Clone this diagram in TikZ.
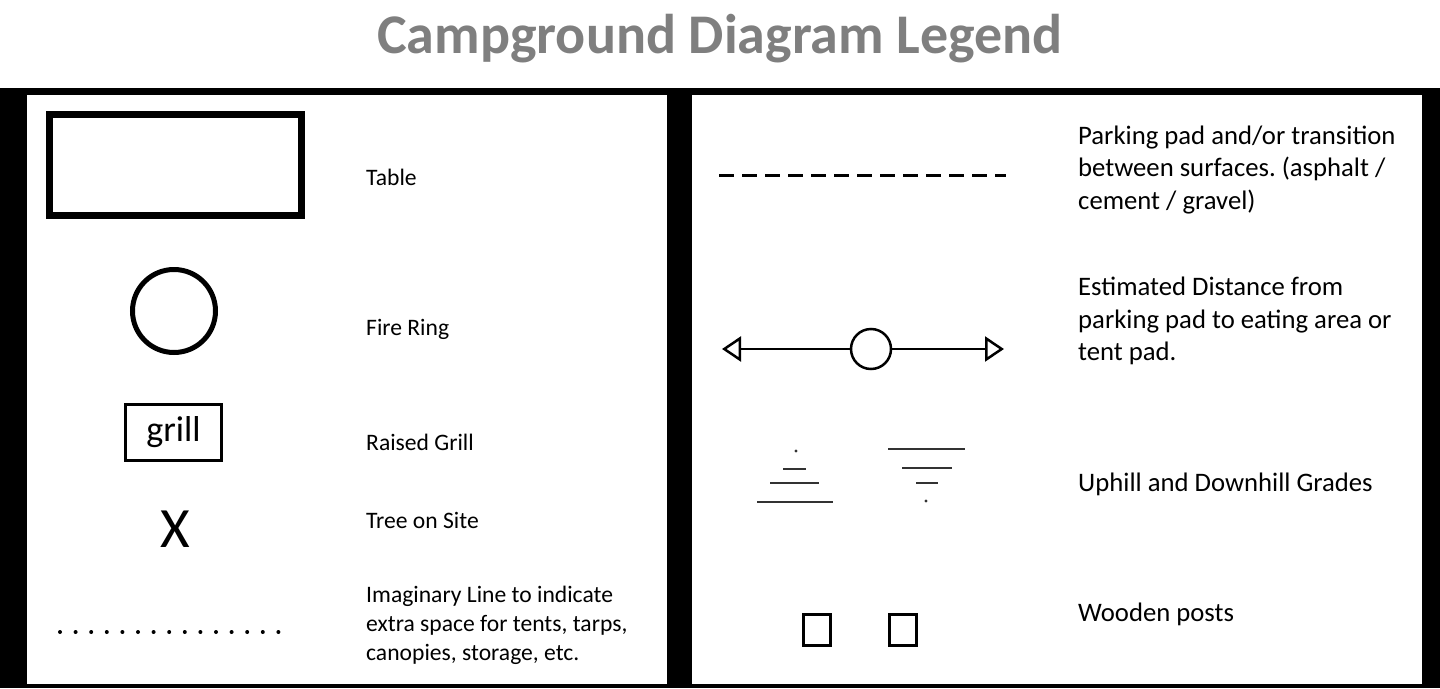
\documentclass[tikz,border=0pt]{standalone}
\usepackage{fontspec}
\setmainfont{Carlito}
\usetikzlibrary{arrows.meta}
\frenchspacing
\definecolor{title-gray}{RGB}{127, 127, 127}
\definecolor{grade-gray}{RGB}{50, 50, 50}
\tikzset{
  panel/.style={fill=white},
  left-text/.style={anchor=west, align=left, inner sep=0pt, font=\fontsize{23.6}{29}\selectfont},
  right-text/.style={anchor=west, align=left, inner sep=0pt, font=\fontsize{26.7}{32.5}\selectfont},
  grade/.style={draw=grade-gray, line width=2.6},
  post/.style={draw=black, line width=3},
}

\begin{document}
\begin{tikzpicture}[x=1pt, y=-1pt]
\useasboundingbox (0,0) rectangle (1440,688);
\node[font=\fontsize{56}{60}\bfseries, text=title-gray] (title) at (720,39) {Campground Diagram Legend};
% frame and the two panels
\fill[black] (0,88) rectangle (1440,688);
\fill[panel] (27,95) rectangle (667,684);
\fill[panel] (692,95) rectangle (1422,684);
% left panel symbols
\draw[line width=7] (49,114.5) rectangle (301.5,215.5);
\draw[line width=5] (174,311) circle (41.5);
\node[draw, line width=3, minimum width=96, minimum height=56, inner sep=0pt, font=\fontsize{36}{38}\selectfont] (grill) at (173.5,432.5) {grill};
\node[font=\fontsize{57}{60}\selectfont, inner sep=0pt] (tree) at (175,529) {X};
\foreach \i in {0,...,14}
  \fill (60+\i*15.6,632) circle (2);
% left panel texts
\node[left-text] (table) at (366,177) {Table};
\node[left-text] (fire) at (366,329) {Fire Ring};
\node[left-text] (raised) at (366,442) {Raised Grill};
\node[left-text] (site) at (366,520) {Tree on Site};
\node[left-text] (imaginary) at (366,625) {Imaginary Line to indicate\\extra space for tents, tarps,\\canopies, storage, etc.};
% right panel symbols
\draw[line width=3, dash pattern=on 15 off 8] (719,175) -- (1006,175);
\node[draw, circle, line width=2.5, minimum size=40, inner sep=0pt] (dist) at (871,349) {};
\coordinate (arrow-l) at (722,349);
\coordinate (arrow-r) at (1004,349);
\draw[line width=2.5, -{Triangle[open, length=19, width=25]}] (dist) -- (arrow-l);
\draw[line width=2.5, -{Triangle[open, length=19, width=25]}] (dist) -- (arrow-r);
\fill[grade-gray] (796,451) circle (1.6);
\draw[grade] (783,469) -- (806,469);
\draw[grade] (770,483) -- (819,483);
\draw[grade] (757,502) -- (833,502);
\draw[grade] (888,449) -- (965,449);
\draw[grade] (902,468) -- (952,468);
\draw[grade] (916,483) -- (938,483);
\fill[grade-gray] (926,501) circle (1.6);
\draw[post] (803.5,614.5) rectangle (830.5,645.5);
\draw[post] (889.5,614.5) rectangle (916.5,645.5);
% right panel texts
\node[right-text] (parking) at (1078,170) {Parking pad and/or transition\\between surfaces. (asphalt /\\cement / gravel)};
\node[right-text] (estimated) at (1078,321) {Estimated Distance from\\parking pad to eating area or\\tent pad.};
\node[right-text] (grades) at (1078,484) {Uphill and Downhill Grades};
\node[right-text] (posts) at (1078,614) {Wooden posts};
\end{tikzpicture}
\end{document}
